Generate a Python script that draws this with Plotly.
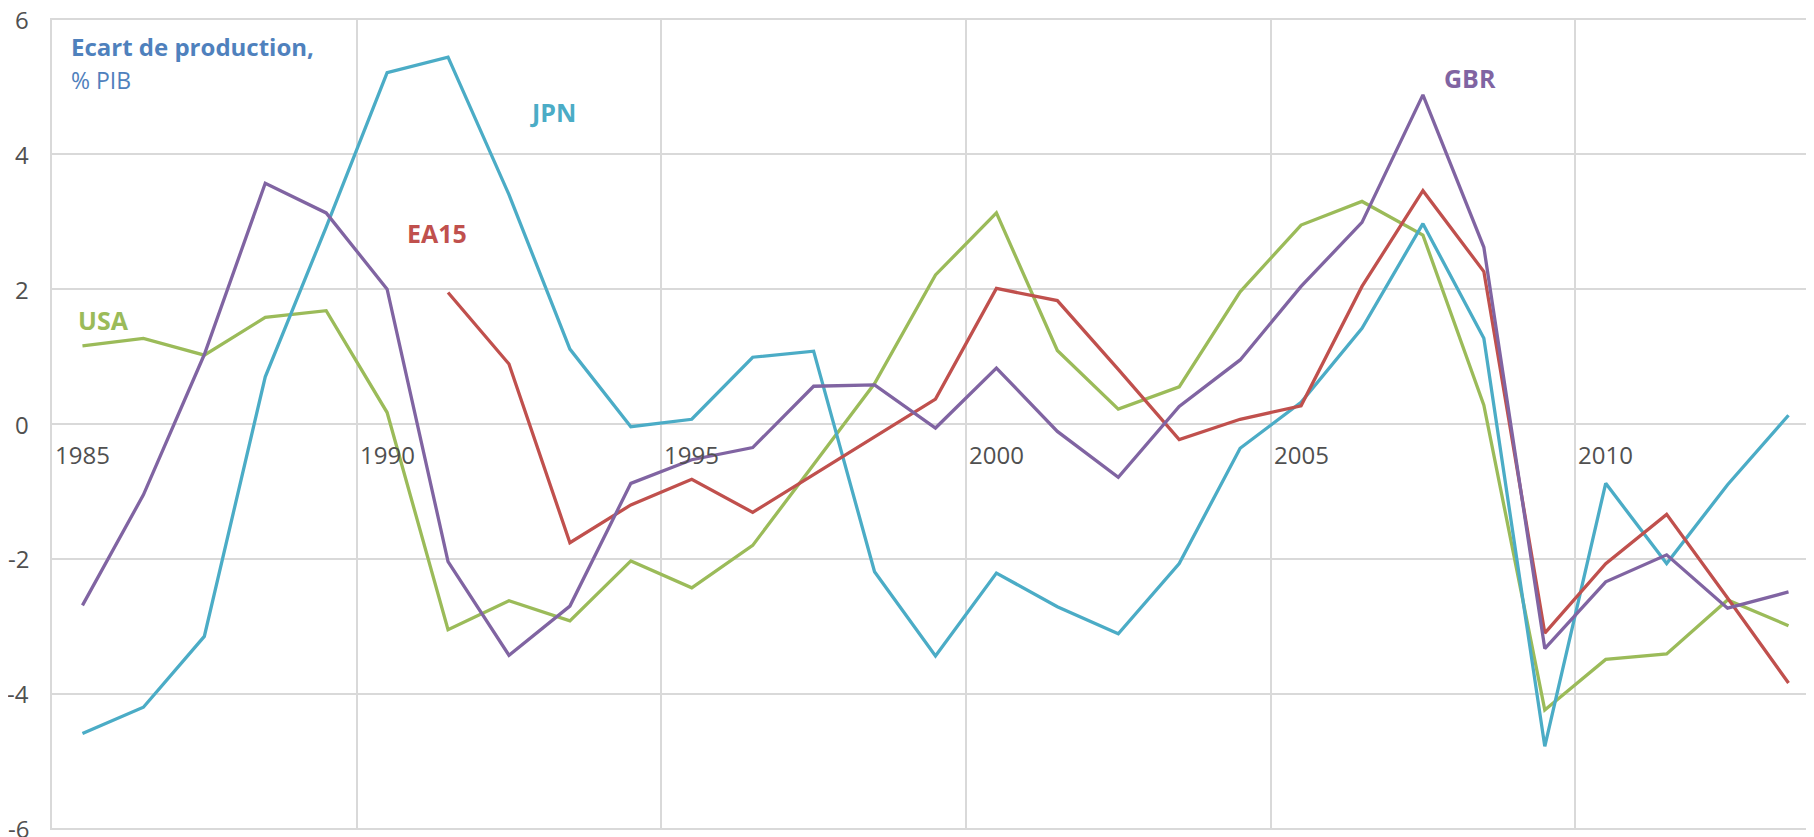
import plotly.graph_objects as go

years = list(range(1985, 2014))

usa = [1.16, 1.27, 1.02, 1.58, 1.68, 0.17, -3.05, -2.62, -2.92, -2.03,
       -2.43, -1.80, -0.60, 0.60, 2.21, 3.13, 1.09, 0.22, 0.55, 1.96,
       2.95, 3.30, 2.80, 0.28, -4.24, -3.49, -3.41, -2.61, -2.99]

jpn = [-4.59, -4.20, -3.15, 0.70, 2.92, 5.21, 5.44, 3.40, 1.11, -0.04,
       0.07, 0.99, 1.08, -2.19, -3.44, -2.21, -2.71, -3.11, -2.07, -0.36,
       0.32, 1.42, 2.97, 1.27, -4.78, -0.88, -2.07, -0.90, 0.13]

gbr = [-2.69, -1.05, 1.03, 3.57, 3.13, 2.00, -2.04, -3.43, -2.70, -0.88,
       -0.53, -0.35, 0.56, 0.58, -0.06, 0.83, -0.11, -0.79, 0.26, 0.95,
       2.04, 2.99, 4.88, 2.62, -3.33, -2.34, -1.94, -2.73, -2.49]

ea15_years = list(range(1991, 2014))
ea15 = [1.95, 0.89, -1.76, -1.20, -0.82, -1.31, -0.75, -0.19, 0.37, 2.01,
        1.83, 0.81, -0.23, 0.07, 0.27, 2.04, 3.46, 2.26, -3.10, -2.07,
        -1.34, -2.58, -3.84]

tick_years = [1985, 1990, 1995, 2000, 2005, 2010]
y_ticks = [-6, -4, -2, 0, 2, 4, 6]

C_USA = "#9BBB59"
C_JPN = "#4BACC6"
C_GBR = "#8064A2"
C_EA = "#C0504D"
C_TITLE = "#4F81BD"
GRID = "#D9D9D9"
TXT = "#505050"
FONT = "Open Sans"

fig = go.Figure()
fig.add_trace(go.Scatter(x=years, y=usa, mode="lines", name="USA",
                         line=dict(color=C_USA, width=3.3)))
fig.add_trace(go.Scatter(x=years, y=jpn, mode="lines", name="JPN",
                         line=dict(color=C_JPN, width=3.3)))
fig.add_trace(go.Scatter(x=ea15_years, y=ea15, mode="lines", name="EA15",
                         line=dict(color=C_EA, width=3.3)))
fig.add_trace(go.Scatter(x=years, y=gbr, mode="lines", name="GBR",
                         line=dict(color=C_GBR, width=3.3)))

# category-style gridlines between years
grid_x = [t - 0.5 for t in tick_years]

# page body has an 8px default margin: size the figure to fit the window
W, H = 1806, 829
L = 44
fig.update_layout(
    width=W, height=H,
    margin=dict(l=L, r=0, t=10, b=7),
    plot_bgcolor="white", paper_bgcolor="white",
    showlegend=False,
    font=dict(family=FONT, color=TXT, size=24),
    xaxis=dict(range=[1984.5, 1984.5 + (W - L) / 60.93],
               tickvals=grid_x, showticklabels=False, ticks="",
               showgrid=True, gridcolor=GRID, gridwidth=1.5,
               zeroline=False, showline=False),
    yaxis=dict(range=[-6.02, 6.02], tickvals=y_ticks,
               showticklabels=False,
               showgrid=True, gridcolor=GRID, gridwidth=1.5,
               zeroline=False, showline=True, linecolor=GRID, linewidth=1.5,
               ticks=""),
)

# y tick labels (as text so the edge labels are not dropped)
for v in y_ticks:
    fig.add_annotation(x=0, y=v, xref="paper", yref="y", text=str(v),
                       showarrow=False, xanchor="right", yanchor="middle",
                       xshift=-21, font=dict(family=FONT, size=24, color=TXT))

# year labels just below the zero line
for yr in tick_years:
    fig.add_annotation(x=yr, y=0, xref="x", yref="y", text=str(yr),
                       showarrow=False, xanchor="center", yanchor="middle",
                       yshift=-30, font=dict(family=FONT, size=24, color=TXT))

# title text
fig.add_annotation(x=1984.5, y=6, xref="x", yref="y", xshift=17, yshift=-27,
                   text="<b>Ecart de production,</b>", showarrow=False,
                   xanchor="left", yanchor="middle",
                   font=dict(family=FONT, size=24, color=C_TITLE))
fig.add_annotation(x=1984.5, y=6, xref="x", yref="y", xshift=17, yshift=-61,
                   text="% PIB", showarrow=False,
                   xanchor="left", yanchor="middle",
                   font=dict(family=FONT, size=23, color=C_TITLE))

# series labels
labels = [("USA", 1984.89, 1.54, C_USA), ("JPN", 1992.32, 4.63, C_JPN),
          ("EA15", 1990.30, 2.83, C_EA), ("GBR", 2007.32, 5.13, C_GBR)]
for txt, lx, ly, col in labels:
    fig.add_annotation(x=lx, y=ly, xref="x", yref="y", text=f"<b>{txt}</b>",
                       showarrow=False, xanchor="left", yanchor="middle",
                       font=dict(family=FONT, size=25, color=col))

fig.write_html("out.html")
